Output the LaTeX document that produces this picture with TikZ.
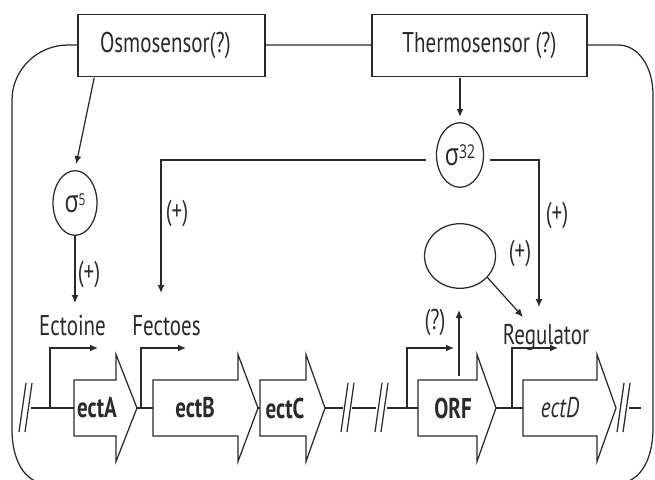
\documentclass[tikz,border=0pt]{standalone}
\usepackage{fontspec}
\setmainfont{PT Sans}
\newfontfamily\grkfont{Open Sans}
\usetikzlibrary{arrows.meta,shapes.geometric}
\definecolor{ink}{HTML}{2A2A2A}

\begin{document}
\begin{tikzpicture}[x=1pt,y=-1pt,>={Latex[length=8pt,width=7pt]},
every node/.append style={yscale=1.36,text=ink,font=\fontsize{21}{24}\selectfont},
wire/.style={draw=ink,line width=1.25pt},reg/.style={wire,->},
sensor/.style={draw=ink,line width=1.25pt,fill=white,minimum width=#1,minimum height=46pt,inner sep=0pt},
sigma/.style={ellipse,draw=ink,line width=1.25pt,minimum width=#1,minimum height=47.5pt,inner sep=0pt},
gene/.style={draw=ink,line width=1.25pt,fill=white,line join=miter},
label/.style={anchor=base}]
\useasboundingbox (0,0) rectangle (655,479);
% cell outline
\draw[wire] (12,430) -- (12,100) .. controls (12,70) and (37,45) .. (68,45) -- (618,45) .. controls (638,45) and (653,66) .. (653,95) -- (653,428) .. controls (653,458) and (641,483) .. (618,483) -- (45,483) .. controls (25,483) and (12,460) .. (12,430) -- cycle;
\node[sensor=187pt,text width=143pt] (osmo) at (171.5,45.5) {Osmosensor(?)};
\node[sensor=215pt] (thermo) at (479.5,45.5) {Thermosensor (?)};
\node[sigma=44pt] (s5) at (75,203) {{\grkfont\fontsize{23}{24}\selectfont σ\raisebox{5pt}{\fontsize{12}{13}\selectfont 5}}};
\node[sigma=47pt] (s32) at (460,155) {{\grkfont\fontsize{23}{24}\selectfont σ\raisebox{5pt}{\fontsize{14}{15}\selectfont 32}}};
\node[sigma=71pt] (factor) at (460,256) {};
% DNA
\foreach \ax/\bx in {31/74,137/153,258/260,325/343,352/376,387/418,496/523,629/641}{\draw[wire] (\ax,408) -- (\bx,408);}
\foreach \sx in {19,341,375,617}{\draw[wire] (\sx,432) -- ++(7,-49) (\sx+6,432) -- ++(7,-49);}
\foreach \gx/\bx/\tx/\lx/\gname/\glab in {74/116/137/97/ectA/{\bfseries ectA},153/238/258/195/ectB/{\bfseries ectB},260/306/325/285/ectC/{\bfseries ectC},418/477/496/453/orf/{\bfseries ORF},523/597/616/560/ectD/{\itshape ectD}}{
\draw[gene] (\gx,380) -- (\bx,380) -- (\bx,354.5) -- (\tx,408) -- (\bx,461.5) -- (\bx,436) -- (\gx,436) -- cycle;
\node (\gname) at (\lx,408) {\glab};}
% promoters
\foreach \px/\pe in {50/98,141/186,407/454,512/558}{\draw[reg] (\px,408) -- (\px,348) -- (\pe,348);}
\node[label] (ectoine) at (72.5,335) {Ectoine};
\node[label] (fectoes) at (166.5,335) {Fectoes};
\node[label] (regulator) at (546,344) {Regulator};
\node (plusA) at (89,274) {(+)};
\node (plusB) at (177,213) {(+)};
\node (plusC) at (557,215) {(+)};
\node (plusD) at (520,253) {(+)};
\node (query) at (435,322) {(?)};
\coordinate (toEct) at (75,303);
\coordinate (toFect) at (161,293);
\coordinate (toReg) at (539,307);
\coordinate (toRegB) at (523,317);
\coordinate (orfBase) at (459,376);
\coordinate (orfTip) at (459,310);
% regulation
\draw[reg,shorten >=6pt] (osmo.197) -- (s5.north);
\draw[reg,shorten >=5pt] (thermo.south -| s32.north) -- (s32.north);
\draw[reg] (s5.south) -- (toEct);
\draw[reg] ([xshift=-10pt,yshift=-5pt]s32.west) -| (toFect);
\draw[reg] ([xshift=6pt,yshift=-5pt]s32.east) -| (toReg);
\draw[reg] (factor.-30) -- (toRegB);
\draw[reg] (orfBase) -- (orfTip);
\end{tikzpicture}
\end{document}
